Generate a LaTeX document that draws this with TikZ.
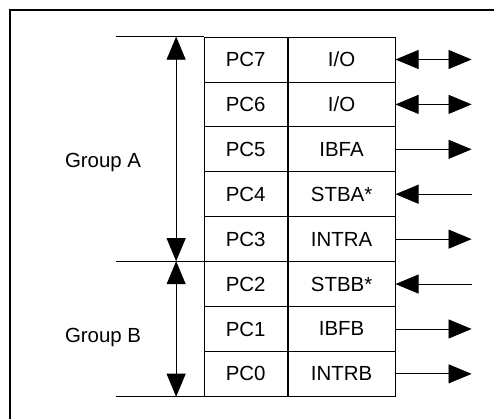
\documentclass[tikz,border=0pt]{standalone}
\usepackage{fontspec}
\setmainfont{Liberation Sans}
\usetikzlibrary{arrows.meta,positioning}

\tikzset{
  cell/.style={draw, line width=0.8bp, minimum height=44.875bp, inner sep=0pt,
    font=\fontsize{20.5}{24}\selectfont},
  pincell/.style={cell, minimum width=83bp},
  sigcell/.style={cell, minimum width=107bp},
  io/.style={line width=0.8bp, {Triangle[length=23bp,width=19bp]}-{Triangle[length=23bp,width=19bp]}},
  outsig/.style={line width=0.8bp, -{Triangle[length=23bp,width=19bp]}},
  insig/.style={line width=0.8bp, {Triangle[length=23bp,width=19bp]}-},
  grouplabel/.style={font=\fontsize{20.5}{24}\selectfont, inner sep=0pt}
}

\begin{document}
\begin{tikzpicture}[x=1bp,y=-1bp]
        \useasboundingbox (0,0) rectangle (493.6,419);
        % outer frame
        \draw[line width=2bp] (10,419) -- (10,10) -- (493.6,10);
        % port C table
        \foreach \pin/\sig/\dir [count=\i from 0] in
            {7/{I/O}/io, 6/{I/O}/io, 5/IBFA/outsig, 4/STBA*/insig,
             3/INTRA/outsig, 2/STBB*/insig, 1/IBFB/outsig, 0/INTRB/outsig}{
          \node[pincell] (p\i) at (245.5,{59.44+\i*44.875}) {PC\pin};
          \node[sigcell, right=0pt of p\i] (s\i) {\sig};
          \coordinate[right=76bp of s\i] (e\i);
          \draw[\dir] (s\i.east) -- (e\i);
        }
        % group limits
        \coordinate (lt) at (p0.north west -| 116,0);
        \coordinate (lm) at (p5.north west -| 116,0);
        \coordinate (lb) at (p7.south west -| 116,0);
        \draw[line width=0.8bp] (lt) -- (p0.north west);
        \draw[line width=0.8bp] (lm) -- (p5.north west);
        \draw[line width=0.8bp] (lb) -- (s7.south east);
        \coordinate (at) at (p0.north west -| 176,0);
        \coordinate (ab) at (p5.north west -| 176,0);
        \coordinate (bb) at (p7.south west -| 176,0);
        \draw[io] (at) -- (ab);
        \draw[io] (ab) -- (bb);
        \node[grouplabel] (gA) at (103,162) {Group A};
        \node[grouplabel] (gB) at (103,337) {Group B};
    \end{tikzpicture}
\end{document}
